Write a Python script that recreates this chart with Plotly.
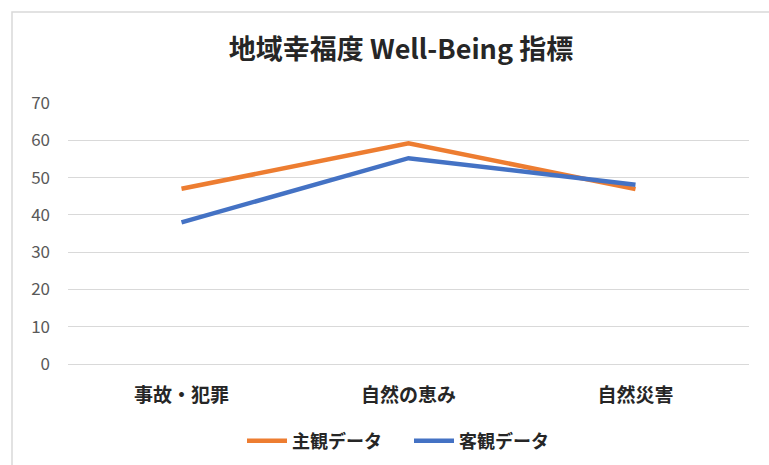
import plotly.graph_objects as go

categories = ["事故・犯罪", "自然の恵み", "自然災害"]
subjective = [47, 59.2, 46.9]
objective = [38, 55.2, 48.1]
series_names = ["主観データ", "客観データ"]
y_ticks = [0, 10, 20, 30, 40, 50, 60, 70]

W, H = 769, 465
L, R, T, B = 68, 20, 103, 101
pw = W - L - R
ph = H - T - B

FONT = "Noto Sans CJK JP, Noto Sans, sans-serif"

fig = go.Figure()
fig.add_trace(go.Scatter(x=categories, y=subjective, mode="lines", name=f"<b>{series_names[0]}</b>",
                         line=dict(color="#ED7D31", width=4.5)))
fig.add_trace(go.Scatter(x=categories, y=objective, mode="lines", name=f"<b>{series_names[1]}</b>",
                         line=dict(color="#4472C4", width=4.5)))

fig.update_layout(
    width=W, height=H,
    margin=dict(l=L, r=R, t=T, b=B),
    paper_bgcolor="white", plot_bgcolor="white",
    font=dict(family=FONT),
    title=dict(text="<b>地域幸福度 Well-Being 指標</b>", x=401 / W, xanchor="center",
               y=1 - 50 / H, yanchor="middle", xref="container", yref="container",
               font=dict(size=27, color="#262626", family=FONT)),
    showlegend=True,
    legend=dict(orientation="h", xref="container", x=409 / W, xanchor="center",
                yref="container", y=1 - 441 / H, yanchor="middle",
                font=dict(size=18, color="#262626", family=FONT),
                itemwidth=40, entrywidth=112, tracegroupgap=0, bgcolor="rgba(0,0,0,0)"),
    xaxis=dict(type="category", showgrid=False, showline=False, zeroline=False,
               automargin=False,
               tickfont=dict(size=19, color="#262626", family=FONT),
               tickvals=categories, ticktext=[f"<b>{c}</b>" for c in categories],
               ticks="", ticklabelstandoff=18, range=[-0.5, 2.5]),
    yaxis=dict(range=[0, 70], tickvals=y_ticks, showgrid=True, gridcolor="#d9d9d9",
               automargin=False,
               gridwidth=1, zeroline=True, zerolinecolor="#d9d9d9", zerolinewidth=1,
               showline=False, tickfont=dict(size=17, color="#595959", family=FONT),
               ticklabelstandoff=17),
    shapes=[dict(type="rect", xref="paper", yref="paper",
                 x0=(12 - L) / pw, x1=(W + 5 - L) / pw,
                 y0=(364 - H - 5) / ph, y1=(364 - 12) / ph,
                 line=dict(color="#d9d9d9", width=1.5), fillcolor="rgba(0,0,0,0)",
                 layer="below")],
)

fig.write_html("out.html", config={"displayModeBar": False},
               post_script="document.body.style.margin='0';")
